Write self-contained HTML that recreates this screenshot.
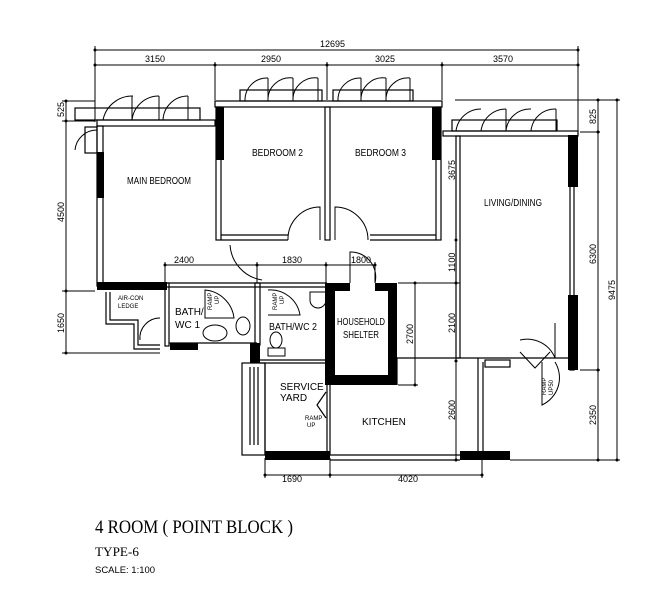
<!DOCTYPE html>
<html><head><meta charset="utf-8"><style>
html,body{margin:0;padding:0;background:#fff;width:660px;height:600px;overflow:hidden}
svg{display:block}
text{font-family:"Liberation Sans",sans-serif;fill:#000}
</style></head><body>
<svg width="660" height="600" viewBox="0 0 660 600" xmlns="http://www.w3.org/2000/svg">
<g stroke="#000" stroke-width="1" fill="none">
<line x1="95" y1="50" x2="578" y2="50"/>
<line x1="95" y1="65" x2="578" y2="65"/>
<line x1="95" y1="46" x2="95" y2="122"/>
<line x1="215" y1="62" x2="215" y2="100"/>
<line x1="327" y1="62" x2="327" y2="100"/>
<line x1="442" y1="62" x2="442" y2="100"/>
<line x1="578" y1="46" x2="578" y2="132"/>
<line x1="66" y1="100" x2="66" y2="353"/>
<line x1="62" y1="101" x2="95" y2="101"/>
<line x1="62" y1="121" x2="95" y2="121"/>
<line x1="62" y1="291" x2="95" y2="291"/>
<line x1="62" y1="353" x2="160" y2="353"/>
<line x1="598" y1="100" x2="598" y2="460"/>
<line x1="617" y1="100" x2="617" y2="460"/>
<line x1="455" y1="100" x2="620" y2="100"/>
<line x1="580" y1="132" x2="600" y2="132"/>
<line x1="580" y1="370" x2="600" y2="370"/>
<line x1="510" y1="460" x2="620" y2="460"/>
<line x1="456" y1="240" x2="456" y2="460"/>
<line x1="415" y1="283" x2="415" y2="385"/>
<line x1="398" y1="283" x2="460" y2="283"/>
<line x1="398" y1="385" x2="418" y2="385"/>
<line x1="165" y1="265" x2="375" y2="265"/>
<line x1="165" y1="262" x2="165" y2="283"/>
<line x1="257" y1="262" x2="257" y2="283"/>
<line x1="326" y1="262" x2="326" y2="283"/>
<line x1="375" y1="262" x2="375" y2="283"/>
<line x1="265" y1="475" x2="482" y2="475"/>
<line x1="265" y1="458" x2="265" y2="478"/>
<line x1="330" y1="458" x2="330" y2="478"/>
<line x1="482" y1="455" x2="482" y2="478"/>
</g>
<g fill="#000">
<circle cx="95" cy="50" r="1.5"/><circle cx="578" cy="50" r="1.5"/>
<circle cx="95" cy="65" r="1.5"/><circle cx="215" cy="65" r="1.5"/><circle cx="327" cy="65" r="1.5"/><circle cx="442" cy="65" r="1.5"/><circle cx="578" cy="65" r="1.5"/>
<circle cx="66" cy="101" r="1.5"/><circle cx="66" cy="121" r="1.5"/><circle cx="66" cy="291" r="1.5"/><circle cx="66" cy="353" r="1.5"/>
<circle cx="598" cy="100" r="1.5"/><circle cx="598" cy="132" r="1.5"/><circle cx="598" cy="370" r="1.5"/><circle cx="598" cy="460" r="1.5"/><circle cx="617" cy="100" r="1.5"/><circle cx="617" cy="460" r="1.5"/>
<circle cx="456" cy="240" r="1.5"/><circle cx="456" cy="283" r="1.5"/><circle cx="456" cy="361" r="1.5"/><circle cx="456" cy="460" r="1.5"/>
<circle cx="415" cy="283" r="1.5"/><circle cx="415" cy="385" r="1.5"/>
<circle cx="165" cy="265" r="1.5"/><circle cx="257" cy="265" r="1.5"/><circle cx="326" cy="265" r="1.5"/><circle cx="375" cy="265" r="1.5"/>
<circle cx="265" cy="475" r="1.5"/><circle cx="330" cy="475" r="1.5"/><circle cx="482" cy="475" r="1.5"/>
</g>
<g stroke="#000" stroke-width="1.2" fill="none">
<rect x="97" y="120" width="118" height="6"/>
<rect x="97" y="126" width="6" height="160"/>
<rect x="215" y="101" width="227" height="6"/>
<rect x="216" y="107" width="5" height="133"/>
<rect x="325" y="107" width="5" height="133"/>
<rect x="436" y="107" width="5" height="133"/>
<line x1="221" y1="240" x2="288" y2="240"/><line x1="221" y1="235" x2="288" y2="235"/>
<line x1="370" y1="240" x2="436" y2="240"/><line x1="370" y1="235" x2="436" y2="235"/>
<rect x="443" y="131" width="135" height="5"/>
<rect x="456" y="136" width="4" height="222"/>
<rect x="570" y="136" width="4" height="234"/>
<line x1="397" y1="358" x2="578" y2="358"/>
<line x1="478" y1="358" x2="478" y2="455"/><line x1="483" y1="362" x2="483" y2="455"/>
<rect x="485" y="360" width="25" height="7"/>
<line x1="165" y1="283" x2="327" y2="283"/><line x1="165" y1="287" x2="327" y2="287"/>
<rect x="165" y="283" width="4" height="63"/>
<line x1="169" y1="343" x2="257" y2="343"/>
<rect x="255" y="283" width="5" height="62"/>
<line x1="260" y1="360" x2="327" y2="360"/><line x1="260" y1="363" x2="327" y2="363"/>
<polyline points="110,292 110,320 138,320 138,345 160,345"/>
<polyline points="106,292 106,324 134,324 134,349 160,349"/>
<rect x="242" y="363" width="23" height="92"/>
<line x1="250" y1="367" x2="250" y2="445"/><line x1="254" y1="367" x2="254" y2="445"/><line x1="258" y1="367" x2="258" y2="445"/>
<line x1="265" y1="363" x2="265" y2="455"/>
<line x1="327" y1="385" x2="327" y2="455"/>
<line x1="330" y1="385" x2="330" y2="455"/>
<line x1="330" y1="455" x2="460" y2="455"/><line x1="330" y1="460" x2="460" y2="460"/>
<line x1="397" y1="358" x2="397" y2="385"/>
<polyline points="326,392 317,405 326,418"/>
<rect x="75" y="108" width="125" height="12"/>
<rect x="240" y="90" width="82" height="11"/>
<rect x="333" y="90" width="80" height="11"/>
<rect x="452" y="120" width="105" height="11"/>
<rect x="85" y="127" width="12" height="26"/>
</g>
<g stroke="#000" stroke-width="1" fill="none">
<path d="M103,120 A30,30 0 0 1 133,96"/><path d="M132,120 V96"/>
<path d="M132,120 A27,27 0 0 1 159,96"/><path d="M159,120 V96"/>
<path d="M163,120 A25,25 0 0 1 188,96"/><path d="M188,120 V96"/>
<path d="M245,101 A22,22 0 0 1 268,78"/><path d="M268,101 A22,22 0 0 1 293,78"/><path d="M293,101 A22,22 0 0 1 318,78"/>
<path d="M268,101V78M293,101V78M318,101V78"/>
<path d="M338,101 A22,22 0 0 1 361,78"/><path d="M361,101 A22,22 0 0 1 386,78"/><path d="M386,101 A22,22 0 0 1 410,78"/>
<path d="M361,101V78M386,101V78M410,101V78"/>
<path d="M456,131 A25,25 0 0 1 481,109"/><path d="M481,131 A25,25 0 0 1 506,109"/><path d="M506,131 A24,24 0 0 1 531,109"/><path d="M531,131 A24,24 0 0 1 556,109"/>
<path d="M506,131V109M556,131V109"/>
<path d="M97,130 A22,22 0 0 0 75,150"/>
<path d="M288,240 A32,32 0 0 1 320,207 V240"/>
<path d="M335,240 V207 A33,33 0 0 1 368,240"/>
<path d="M230,245 A38,38 0 0 0 262,280"/>
<path d="M350,283 V252 A25,25 0 0 1 375,283"/>
<path d="M205,290 A32,32 0 0 1 234,318 H205Z"/>
<path d="M268,290 A30,30 0 0 1 300,315 H268"/>
<path d="M140,340 A20,20 0 0 1 160,318"/>
<path d="M555,358 A30,30 0 0 0 520,340 M555,358 V323"/>
<path d="M555,362 A30,30 0 0 1 542,405 V362"/>
<path d="M520,352 L535,368 L550,352"/>
</g>
<g fill="#000">
<rect x="97" y="152" width="7" height="46"/>
<rect x="216" y="107" width="8" height="53"/>
<rect x="432" y="107" width="9" height="53"/>
<rect x="568" y="135" width="10" height="52"/>
<rect x="568" y="295" width="10" height="75"/>
<rect x="97" y="282" width="70" height="8"/>
<rect x="170" y="343" width="28" height="7"/>
<rect x="250" y="343" width="10" height="20"/>
<rect x="325" y="283" width="10" height="102"/>
<rect x="325" y="283" width="72" height="8"/>
<rect x="388" y="283" width="9" height="102"/>
<rect x="325" y="375" width="72" height="10"/>
<rect x="265" y="451" width="65" height="9"/>
<rect x="460" y="451" width="50" height="9"/>
<rect x="375" y="283" width="22" height="8"/>
</g>
<rect x="336" y="291" width="51" height="83" fill="#fff"/>
<rect x="350" y="283" width="25" height="8" fill="#fff"/>
<g stroke="#000" fill="none">
<ellipse cx="215" cy="333" rx="12" ry="8"/><ellipse cx="243" cy="326" rx="7" ry="9"/>
<ellipse cx="276" cy="340" rx="6" ry="8"/><rect x="268" y="348" width="17" height="8"/>
<path d="M310,300 A8,8 0 0 0 326,300 V292 H310Z"/>
</g>
<g font-size="9">
<text x="320" y="47">12695</text>
<text x="145" y="62">3150</text><text x="261" y="62">2950</text><text x="375" y="62">3025</text><text x="493" y="62">3570</text>
<text x="174" y="263">2400</text><text x="282" y="263">1830</text><text x="351" y="263">1800</text>
<text x="282" y="482">1690</text><text x="398" y="482">4020</text>
<text transform="translate(64,117) rotate(-90)">525</text>
<text transform="translate(64,222) rotate(-90)">4500</text>
<text transform="translate(64,333) rotate(-90)">1650</text>
<text transform="translate(455,180) rotate(-90)">3675</text>
<text transform="translate(455,272) rotate(-90)">1100</text>
<text transform="translate(455,333) rotate(-90)">2100</text>
<text transform="translate(455,420) rotate(-90)">2600</text>
<text transform="translate(413,344) rotate(-90)">2700</text>
<text transform="translate(596,124) rotate(-90)">825</text>
<text transform="translate(596,264) rotate(-90)">6300</text>
<text transform="translate(596,425) rotate(-90)">2350</text>
<text transform="translate(615,300) rotate(-90)">9475</text>
</g>
<g font-size="10" lengthAdjust="spacingAndGlyphs">
<text x="127" y="184" textLength="64" lengthAdjust="spacingAndGlyphs">MAIN BEDROOM</text>
<text x="252" y="156" textLength="51" lengthAdjust="spacingAndGlyphs">BEDROOM 2</text>
<text x="355" y="156" textLength="51" lengthAdjust="spacingAndGlyphs">BEDROOM 3</text>
<text x="484" y="206" textLength="58" lengthAdjust="spacingAndGlyphs">LIVING/DINING</text>
<text x="175" y="315">BATH/</text><text x="175" y="328">WC 1</text>
<text x="269" y="330" textLength="48" lengthAdjust="spacingAndGlyphs">BATH/WC 2</text>
<text x="337" y="325" textLength="48" lengthAdjust="spacingAndGlyphs">HOUSEHOLD</text><text x="343" y="338" textLength="36" lengthAdjust="spacingAndGlyphs">SHELTER</text>
<text x="280" y="390">SERVICE</text><text x="280" y="401">YARD</text>
<text x="362" y="425">KITCHEN</text>
</g>
<g font-size="6">
<text x="118" y="300">AIR-CON</text><text x="118" y="308">LEDGE</text>
<text x="305" y="420">RAMP</text><text x="307" y="427">UP</text>
<text transform="translate(212,310) rotate(-90)">RAMP</text><text transform="translate(219,304) rotate(-90)">UP</text>
<text transform="translate(277,310) rotate(-90)">RAMP</text><text transform="translate(284,304) rotate(-90)">UP</text>
<text transform="translate(546,395) rotate(-90)">RAMP</text><text transform="translate(553,395) rotate(-90)">UP50</text>
</g>
<text x="95" y="533" font-size="19" textLength="198" lengthAdjust="spacingAndGlyphs" style="font-family:'Liberation Serif',serif">4 ROOM ( POINT BLOCK )</text>
<text x="95" y="556" font-size="13" style="font-family:'Liberation Serif',serif" textLength="44" lengthAdjust="spacingAndGlyphs">TYPE-6</text>
<text x="95" y="573" font-size="9.5" textLength="60" lengthAdjust="spacingAndGlyphs">SCALE:  1:100</text>
</svg>
</body></html>
